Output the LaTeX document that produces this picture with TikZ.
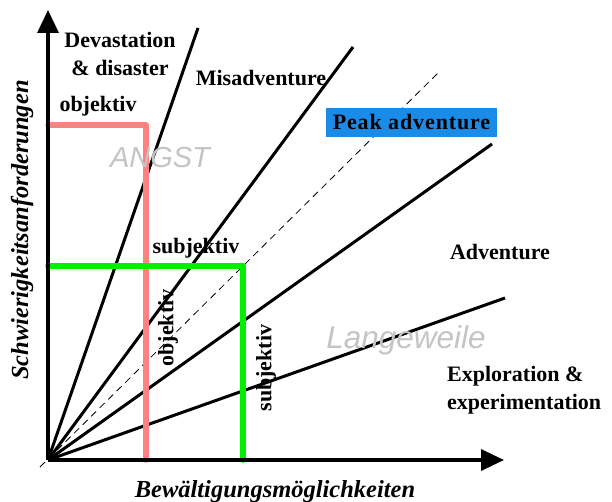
\documentclass[tikz,border=0pt]{standalone}
\usepackage{fontspec}
\setmainfont{Liberation Serif}
\newfontfamily\graysans{Liberation Sans}
\newfontfamily\spacedbold[LetterSpace=4]{Liberation Serif}
\usetikzlibrary{arrows.meta}
\definecolor{pinkline}{HTML}{FF8080}
\definecolor{greenline}{HTML}{00F000}
\definecolor{peakblue}{HTML}{1A8CE8}
\definecolor{moodgray}{HTML}{C4C4C4}
\tikzset{
  axis/.style={line width=3.4pt, -{Triangle[length=23pt,width=21pt]}},
  ray/.style={line width=3pt},
  diag/.style={line width=0.8pt, dash pattern=on 7pt off 5pt},
  limitred/.style={line width=5.5pt, pinkline, line cap=round, line join=round},
  limitgreen/.style={line width=5.5pt, greenline, line cap=round, line join=round},
  lbl/.style={font=\fontsize{22}{28}\selectfont\bfseries, inner sep=0pt},
  axislbl/.style={font=\fontsize{24.5}{28}\selectfont\bfseries\itshape, inner sep=0pt},
  mood/.style={font=\graysans\itshape, text=moodgray, inner sep=0pt}
}
\begin{document}
\begin{tikzpicture}[x=1pt, y=-1pt]
  \useasboundingbox (0,0) rectangle (612,502);
  % origin and axes
  \coordinate (O) at (48,460);
  \coordinate (ytip) at (48,10);
  \coordinate (xtip) at (504,460);
  % ray end points
  \coordinate (r1) at (198,28);
  \coordinate (r2) at (353,47);
  \coordinate (dS) at (40,467);
  \coordinate (dE) at (438,73);
  \coordinate (r3) at (492,144);
  \coordinate (r4) at (505,298);
  % limit corners
  \coordinate (pA) at (48,125);
  \coordinate (pB) at (146,125);
  \coordinate (pC) at (146,460);
  \coordinate (gA) at (48,266);
  \coordinate (gB) at (243,266);
  \coordinate (gC) at (243,460);

  \draw[diag] (dS) -- (dE);
  \draw[ray] (O) -- (r1);
  \draw[ray] (O) -- (r2);
  \draw[ray] (O) -- (r3);
  \draw[ray] (O) -- (r4);

  \draw[limitred] (pA) -- (pB) -- (pC);
  \draw[limitgreen] (gA) -- (gB) -- (gC);

  \draw[axis] (O) -- (ytip);
  \draw[axis] (O) -- (xtip);

  % zone labels
  \node[lbl, align=center] (dev) at (120,54) {Devastation\\[0pt]\& disaster};
  \node[lbl] (mis) at (261,78) {Misadventure};
  \node[lbl, font=\spacedbold\fontsize{22}{28}\selectfont\bfseries, fill=peakblue, minimum width=171pt, minimum height=29pt] (peak) at (411.5,122.5) {Peak adventure};
  \node[lbl] (adv) at (500,252) {Adventure};
  \node[lbl, align=left, anchor=west] (exp) at (447,390) {Exploration \&\\[0pt]experimentation};

  % limit labels
  \node[lbl] (objtop) at (98,106) {objektiv};
  \node[lbl] (subtop) at (196,248) {subjektiv};
  \node[lbl, rotate=90] (objrot) at (168,328) {objektiv};
  \node[lbl, rotate=90] (subrot) at (266,368) {subjektiv};

  % mood labels
  \node[mood, font=\graysans\itshape\fontsize{29}{32}\selectfont] (angst) at (160,158) {ANGST};
  \node[mood, font=\graysans\itshape\fontsize{31.5}{34}\selectfont] (lang) at (406,340) {Langeweile};

  % axis labels
  \node[axislbl] (xlbl) at (275,492) {Bewältigungsmöglichkeiten};
  \node[axislbl, rotate=90] (ylbl) at (22,230) {Schwierigkeitsanforderungen};
\end{tikzpicture}
\end{document}
